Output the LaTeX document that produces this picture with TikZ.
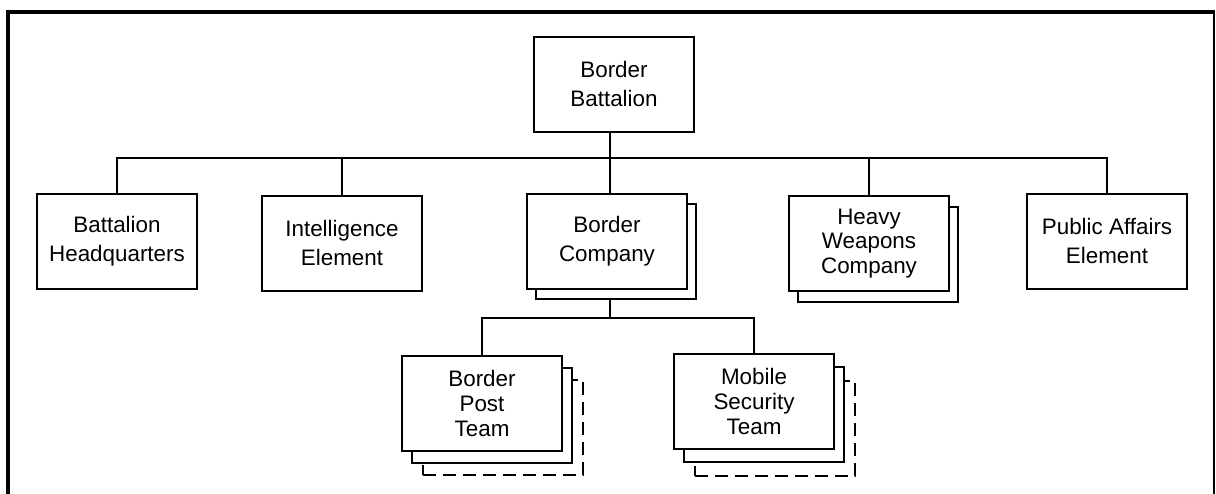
\documentclass[tikz,border=0pt]{standalone}
\usepackage{fontspec}
\setmainfont{Liberation Sans}
\begin{document}
\begin{tikzpicture}[x=0.75pt,y=-0.75pt,
  box/.style={draw, line width=1.5pt, fill=white, minimum width=120pt, minimum height=71.25pt, inner sep=0pt, align=center, font=\fontsize{16.8}{21.5}\selectfont},
  tbox/.style={box, font=\fontsize{16.8}{18.4}\selectfont},
  dbox/.style={box, dash pattern=on 10pt off 5pt},
  conn/.style={line width=1.5pt},
  frameline/.style={line width=3pt}]
\useasboundingbox (0,0) rectangle (1216,493);
% frame
\draw[frameline] (8,495) -- (8,12) -- (1215,12);
\draw[line width=1.2pt] (1214,12) -- (1214,495);
% top
\node[box] (bb) at (614,84) {Border\\Battalion};
\node[box] (hq) at (117,241.5) {Battalion\\Headquarters};
\node[box] (ie) at (342,243) {Intelligence\\Element};
\node[box] (bc2) at (616,251.5) {};
\node[box] (bc) at (607,241.5) {Border\\Company};
\node[box] (hw2) at (878,254.5) {};
\node[tbox] (hw) at (869,243.5) {Heavy\\Weapons\\Company};
\node[box] (pa) at (1107,241) {Public Affairs\\Element};
% bottom
\node[dbox] (bpt3) at (503,427.5) {};
\node[box] (bpt2) at (492,415.5) {};
\node[tbox] (bpt) at (482,403.5) {Border\\Post\\Team};
\node[dbox] (mst3) at (775,428.5) {};
\node[box] (mst2) at (764,414.5) {};
\node[tbox] (mst) at (754,401.5) {Mobile\\Security\\Team};
% connectors
\coordinate (trunk) at (610,158);
\coordinate (sub) at (610,318);
\draw[conn] (bb.south -| trunk) -- (bc.north -| trunk);
\draw[conn] (hq.north) -- (hq.north |- trunk) -- (pa.north |- trunk) -- (pa.north);
\draw[conn] (ie.north) -- (ie.north |- trunk);
\draw[conn] (hw.north) -- (hw.north |- trunk);
\draw[conn] (bc2.south -| trunk) -- (sub);
\draw[conn] (bpt.north) -- (bpt.north |- sub) -- (mst.north |- sub) -- (mst.north);
\end{tikzpicture}
\end{document}
